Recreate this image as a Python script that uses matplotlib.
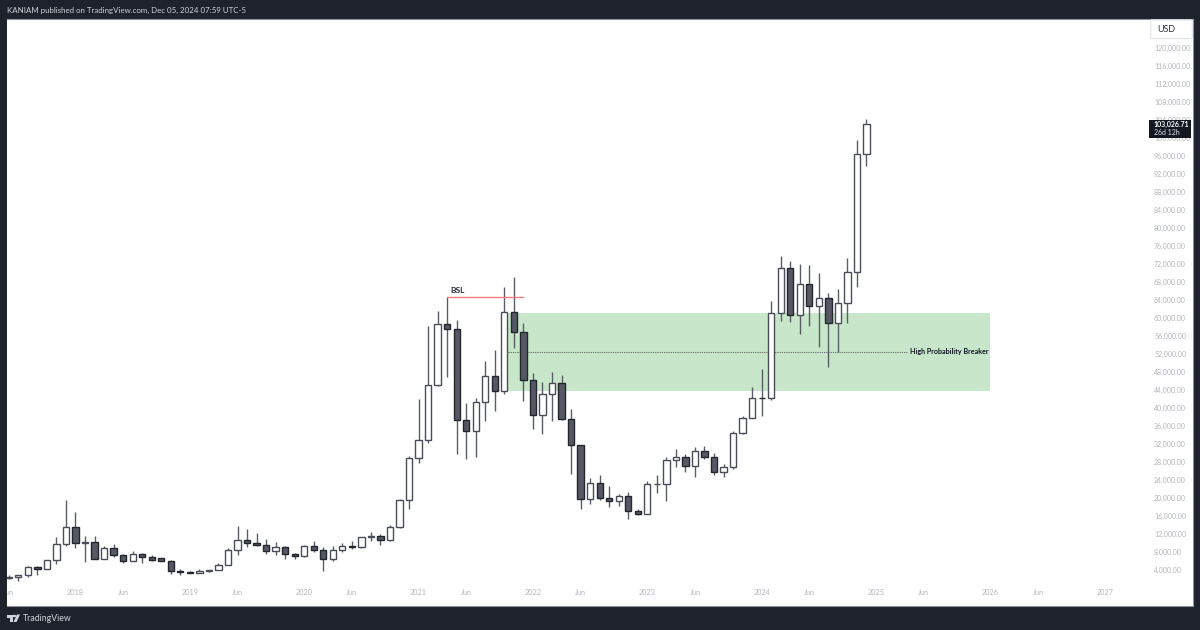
import matplotlib

matplotlib.use('Agg')
import matplotlib.pyplot as plt
from matplotlib.patches import FancyBboxPatch, Polygon, Circle, Rectangle
import numpy as np

# monthly candles, Jun 2017 .. Dec 2024 (month 0 = Jan 2018)
months = np.arange(-7, 84)

opens = [2300, 2480, 2875, 4650, 4200, 6300, 9800,
         13700, 10100, 10200, 6600, 9050, 7300, 6150, 7550, 6850, 6650, 6150, 3950,
         3650, 3450, 3800, 4100, 5270, 8550, 10800, 10080, 9600, 8300, 9150, 7550,
         7190, 9350, 8500, 6400, 8600, 9450, 9140, 11350, 11650, 10700, 13600, 19700,
         28900, 33000, 45200, 58700, 57500, 37300, 35000, 41400, 47100, 43800, 61300, 56900,
         46300, 38400, 43100, 45500, 37600, 31800, 19900, 23300, 20000, 19400, 20400, 17100,
         16500, 23100, 23200, 28400, 29200, 27100, 30400, 29100, 25900, 27000, 34500, 37700,
         42300, 42300, 61100, 71200, 60600, 67500, 62600, 64500, 58900, 63300, 70200, 96400]
highs = [2990, 2930, 4980, 4980, 6350, 11400, 19700,
         17000, 11600, 11600, 9500, 9850, 7600, 8350, 7780, 7400, 6800, 6350, 4300,
         3900, 4200, 4150, 5650, 9000, 13800, 13100, 12300, 10900, 10370, 9500, 7750,
         9550, 10500, 9200, 9450, 10000, 10400, 11450, 12500, 12100, 14000, 19900, 29300,
         41960, 58240, 61600, 64750, 59570, 41200, 42180, 50470, 52900, 66830, 69050, 58970,
         47870, 45800, 48000, 47290, 39800, 31800, 24400, 25100, 22700, 20900, 21380, 17500,
         23880, 25150, 29100, 30950, 29750, 31300, 31600, 29970, 27500, 35000, 38300, 44630,
         48750, 63850, 73780, 72680, 72000, 71800, 69930, 65500, 66400, 73400, 99500, 104100]
lows = [2070, 1700, 2600, 2990, 4200, 5465, 9330,
        9000, 5780, 6440, 6440, 7020, 5550, 6060, 5690, 6060, 6100, 3250, 3020,
        3350, 3400, 3700, 4100, 5200, 7500, 9100, 9300, 7700, 7300, 6500, 6400,
        6900, 8150, 3850, 6100, 8000, 8800, 9000, 10600, 9700, 10500, 13350, 17540,
        27750, 32300, 45000, 47000, 29750, 28770, 29200, 37200, 39430, 43140, 53420, 41580,
        35430, 34260, 37080, 37400, 25300, 17540, 18700, 19500, 18120, 18200, 15300, 16200,
        16400, 21200, 19450, 27000, 25800, 24780, 28800, 25230, 24800, 26500, 34300, 40200,
        38300, 41800, 59400, 59100, 56460, 58300, 53500, 49070, 52460, 58900, 66830, 93700]
closes = [2480, 2875, 4650, 4200, 6300, 9800, 13700,
          10100, 10200, 6600, 9050, 7300, 6150, 7550, 6850, 6300, 6150, 3950, 3650,
          3450, 3800, 4100, 5270, 8550, 10800, 10080, 9600, 8300, 9150, 7550, 7190,
          9350, 8500, 6400, 8600, 9450, 9140, 11350, 11650, 10700, 13600, 19700, 28900,
          33000, 45200, 58700, 57600, 37300, 35000, 41400, 47100, 43800, 61300, 56900, 46300,
          38400, 43100, 45500, 37600, 31800, 19900, 23300, 20000, 19400, 20400, 17100, 16500,
          23100, 23200, 28400, 29200, 27100, 30400, 29100, 25900, 27000, 34500, 37700, 42300,
          42250, 61100, 71200, 60600, 67500, 62600, 64500, 58900, 63300, 70200, 96400, 103026.71]

tick_months = [-7, 0, 5, 12, 17, 24, 29, 36, 41, 48, 53, 60, 65, 72, 77, 84, 89, 96, 101, 108]
tick_labels = ['Jun', '2018', 'Jun', '2019', 'Jun', '2020', 'Jun', '2021', 'Jun', '2022',
               'Jun', '2023', 'Jun', '2024', 'Jun', '2025', 'Jun', '2026', 'Jun', '2027']
price_ticks = list(range(4000, 124000, 4000))

# drawings on the chart
zone_months = [45.4, 96]
zone_prices = [43800, 61050]
breaker_price = 52530
breaker_months = [45.4, 87.4]
bsl_price = 64750
bsl_months = [39, 47]
last_price = 103026.71

BG = '#1e222d'
TICK = '#b2b5be'
INK = '#131722'
FONT = 'Lato'

W, H = 1200, 630
fig = plt.figure(figsize=(W / 100, H / 100), dpi=100, facecolor=BG)
ax = fig.add_axes([7 / W, 1 - 606 / H, (1193 - 7) / W, (606 - 18.5) / H])

# pixel scale: 9.53 px a month, 18.02 px per 4000
ax.set_xlim((7 - 75.5) / 9.53, (1193 - 75.5) / 9.53)
ax.set_ylim(4000 + (570.3 - 606) * 222, 4000 + (570.3 - 18.5) * 222)

# zone and midline sit under the candles
ax.add_patch(Rectangle((zone_months[0], zone_prices[0]), zone_months[1] - zone_months[0],
                       zone_prices[1] - zone_prices[0], facecolor='#c8e6c9', edgecolor='none', zorder=1))
ax.plot(breaker_months, [breaker_price, breaker_price], color='#666666', lw=0.8, ls=(0, (1, 1)), zorder=1.5)
ax.text(96 - 0.2, breaker_price, 'High Probability Breaker', ha='right', va='center',
        fontsize=5.1, fontweight='bold', color=INK, family=FONT, zorder=3)

# candles
o = np.array(opens)
c = np.array(closes)
ax.vlines(months, lows, highs, color='#5a5d67', lw=1.0, zorder=2)
down = c < o
ax.bar(months[~down], (c - o)[~down], bottom=o[~down], width=0.66, facecolor='white',
       edgecolor='#4a4d57', lw=1.0, zorder=2.2)
ax.bar(months[down], (c - o)[down], bottom=o[down], width=0.66, facecolor='#565964',
       edgecolor='#23262f', lw=1.0, zorder=2.2)

# BSL line
ax.plot(bsl_months, [bsl_price, bsl_price], color='#f77c80', lw=1.0, zorder=3)
ax.text(39.3, bsl_price + 500, 'BSL', ha='left', va='bottom', fontsize=6, fontweight='bold',
        color='#2a2e39', family=FONT, zorder=3)

# axes
ax.set_xticks(tick_months)
ax.set_xticklabels(tick_labels, family=FONT, fontsize=5.2, color=TICK)
ax.tick_params(axis='x', direction='in', length=0, pad=-12)
ax.yaxis.tick_right()
ax.set_yticks(price_ticks)
ax.set_yticklabels([f'{p:,.2f}' for p in price_ticks], family=FONT, fontsize=5.0, color=TICK)
ax.tick_params(axis='y', direction='in', length=0, pad=-28)
for lab in ax.get_xticklabels():
    lab.set_clip_on(True)
    lab.set_clip_box(ax.bbox)
for side in ['left', 'right', 'top', 'bottom']:
    ax.spines[side].set_color('#8f929c')
    ax.spines[side].set_linewidth(0.8)
ax.spines['left'].set_visible(False)


def px(x, y):
    return x / W, 1 - y / H


# last price tag and currency button, placed in pixels
fig.add_artist(Rectangle(px(1149, 137.7), 42 / W, 18 / H, transform=fig.transFigure,
                         facecolor=INK, edgecolor='none', zorder=5))
fig.text(*px(1154, 124.5), f'{last_price:,.2f}', color='white', fontsize=5.0, fontweight='bold',
         family=FONT, va='center', zorder=6)
fig.text(*px(1154, 132.5), '26d 12h', color='#e0e3eb', fontsize=5.0, family=FONT, va='center', zorder=6)
fig.add_artist(FancyBboxPatch(px(1152, 38), 39 / W, 17.5 / H, transform=fig.transFigure,
                              boxstyle='round,pad=0.001', facecolor='white', edgecolor='#e0e3eb',
                              lw=0.8, zorder=5))
fig.text(*px(1157.5, 29.5), 'USD', color='#2a2e39', fontsize=6.4, family=FONT, va='center', zorder=6)

# header and footer
fig.text(*px(7, 10), 'KANIAM published on TradingView.com, Dec 05, 2024 07:59 UTC-5',
         color='#d1d4dc', fontsize=5.66, family=FONT, va='center')
fig.text(*px(23, 618.5), 'TradingView', color='#d1d4dc', fontsize=6.3, family=FONT, va='center')
fig.add_artist(Polygon([px(7, 614.5), px(12.5, 614.5), px(12.5, 622), px(10, 622), px(10, 617.5), px(7, 617.5)],
                       closed=True, transform=fig.transFigure, facecolor='#d1d4dc', edgecolor='none'))
fig.add_artist(Circle(px(14.3, 616), 1.2 / H, transform=fig.transFigure, facecolor='#d1d4dc', edgecolor='none'))
fig.add_artist(Polygon([px(17, 614.5), px(20, 614.5), px(16.5, 622), px(13.5, 622)],
                       closed=True, transform=fig.transFigure, facecolor='#d1d4dc', edgecolor='none'))

fig.savefig('out.png', dpi=100, facecolor=BG)
